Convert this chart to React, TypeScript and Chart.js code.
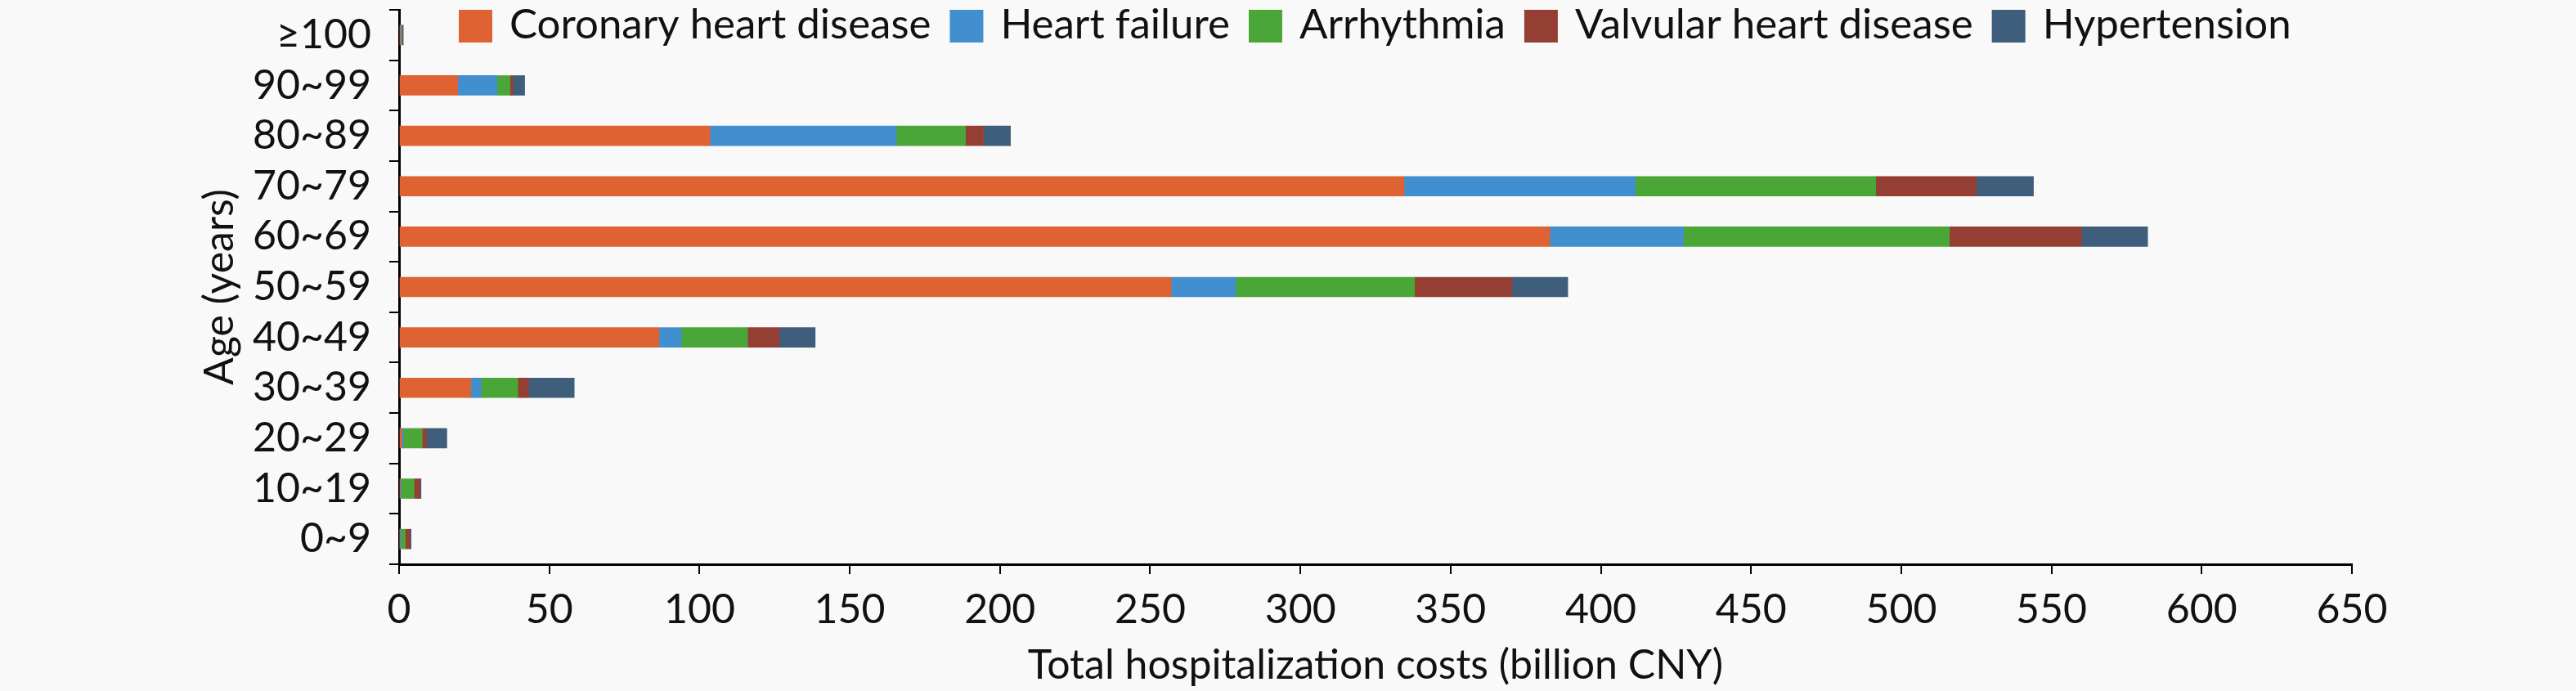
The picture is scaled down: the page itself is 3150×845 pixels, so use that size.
import React, { useEffect, useRef } from 'react'
import { Chart, registerables } from 'chart.js'

Chart.register(...registerables)

// age groups, bottom to top (axis is reversed so ≥100 sits on top)
const ageGroups = ['0~9', '10~19', '20~29', '30~39', '40~49', '50~59', '60~69', '70~79', '80~89', '90~99', '≥100']

// total hospitalization costs, billion CNY
const coronary = [0.3, 0.4, 0.9, 23.9, 86.5, 257, 383, 334.5, 103.5, 19.5, 0.5]
const heartFailure = [0.3, 0.3, 0.5, 3.4, 7.5, 21.5, 44.5, 77, 62, 13.1, 0.3]
const arrhythmia = [1.5, 4.3, 6.3, 12.2, 22, 59.5, 88.5, 80, 23, 4.3, 0.2]
const valvular = [1.5, 2.0, 1.4, 3.6, 10.5, 32.5, 44, 33.5, 6, 1.0, 0.1]
const hypertension = [0.4, 0.3, 6.8, 15.2, 12, 18.5, 22, 19, 9, 3.9, 0.3]

const xTicks = [0, 50, 100, 150, 200, 250, 300, 350, 400, 450, 500, 550, 600, 650]

const FONT = 'Lato'
const FONT_SIZE = 50
const LEGEND_SIZE = 51
const TEXT = '#111'

// legend drawn across the top of the plot, over the empty area
const topLegend = {
  id: 'topLegend',
  afterDraw(chart: any) {
    const ctx = chart.ctx
    ctx.save()
    ctx.font = `${LEGEND_SIZE}px ${FONT}`
    ctx.textBaseline = 'middle'
    let x = 561
    chart.data.datasets.forEach((ds: any) => {
      ctx.fillStyle = ds.backgroundColor
      ctx.fillRect(x, 12, 41, 40)
      x += 62
      ctx.fillStyle = TEXT
      ctx.fillText(ds.label, x, 30.5)
      x += ctx.measureText(ds.label).width + 23
    })
    ctx.restore()
  },
}

const noPadding = (scale: any) => {
  scale.paddingTop = 0
  scale.paddingBottom = 0
  scale.paddingLeft = 0
  scale.paddingRight = 0
}

const App = () => {
  const chartRef = useRef<HTMLCanvasElement>(null)

  useEffect(() => {
    if (!chartRef.current) return

    const series = [
      { label: 'Coronary heart disease', data: coronary, color: '#DE6232' },
      { label: 'Heart failure', data: heartFailure, color: '#428FD0' },
      { label: 'Arrhythmia', data: arrhythmia, color: '#4AA737' },
      { label: 'Valvular heart disease', data: valvular, color: '#953F34' },
      { label: 'Hypertension', data: hypertension, color: '#3E5E7B' },
    ]

    const chart = new Chart(chartRef.current, {
      type: 'bar',
      data: {
        labels: ageGroups,
        datasets: series.map((s) => ({
          label: s.label,
          data: s.data,
          backgroundColor: s.color,
          borderWidth: 0,
          barThickness: 24,
        })),
      },
      options: {
        indexAxis: 'y',
        responsive: true,
        maintainAspectRatio: false,
        animation: false,
        layout: { padding: { top: 12, right: 274, left: 0, bottom: 0 } },
        plugins: {
          legend: { display: false },
          tooltip: { enabled: false },
        },
        scales: {
          x: {
            stacked: true,
            min: 0,
            max: 650,
            afterFit: (scale: any) => {
              scale.height = 155
              noPadding(scale)
            },
            afterBuildTicks: (scale: any) => {
              scale.ticks = xTicks.map((v) => ({ value: v }))
            },
            border: { display: true, color: '#000', width: 3 },
            grid: {
              drawOnChartArea: false,
              drawTicks: true,
              tickLength: 12,
              color: '#000',
              lineWidth: 2,
            },
            ticks: {
              padding: 14,
              autoSkip: false,
              maxRotation: 0,
              color: TEXT,
              font: { family: FONT, size: FONT_SIZE },
            },
            title: {
              display: true,
              text: 'Total hospitalization costs (billion CNY)',
              color: TEXT,
              font: { family: FONT, size: FONT_SIZE, lineHeight: 1 },
              padding: { top: 0, bottom: 6.5 },
            },
          },
          y: {
            stacked: true,
            reverse: true,
            afterFit: (scale: any) => {
              scale.width = 488
              noPadding(scale)
            },
            border: { display: true, color: '#000', width: 3 },
            grid: {
              drawOnChartArea: false,
              drawTicks: true,
              tickLength: 12,
              color: '#000',
              lineWidth: 2,
            },
            ticks: {
              padding: 22,
              autoSkip: false,
              color: TEXT,
              font: { family: FONT, size: FONT_SIZE },
            },
            title: {
              display: true,
              text: 'Age (years)',
              color: TEXT,
              font: { family: FONT, size: FONT_SIZE, lineHeight: 1 },
              padding: { top: 243.5, bottom: 0 },
            },
          },
        },
      },
      plugins: [topLegend],
    })

    return () => {
      chart.destroy()
    }
  }, [])

  return (
    <div
      style={{
        position: 'absolute',
        left: 0,
        top: 0,
        width: 3150,
        height: 845,
        background: '#f9f9f9',
      }}
    >
      <canvas ref={chartRef}></canvas>
    </div>
  )
}

export default App
